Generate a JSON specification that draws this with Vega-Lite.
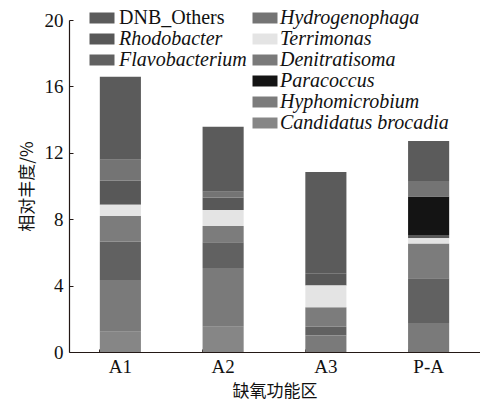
{
  "$schema": "https://vega.github.io/schema/vega-lite/v6.json",
  "autosize": "none",
  "width": 411,
  "height": 332,
  "padding": {"left": 69, "top": 20, "right": 0, "bottom": 54},
  "background": "white",
  "config": {
    "view": {"stroke": null},
    "font": "Liberation Serif",
    "axis": {"domainColor": "#231815", "tickColor": "#231815", "labelColor": "#111", "titleColor": "#111", "grid": false}
  },
  "data": {
    "values": [
      {"site": "A1", "genus": "Candidatus brocadia", "value": 1.22},
      {"site": "A1", "genus": "Denitratisoma", "value": 3.12},
      {"site": "A1", "genus": "Flavobacterium", "value": 2.3},
      {"site": "A1", "genus": "Hyphomicrobium", "value": 1.56},
      {"site": "A1", "genus": "Terrimonas", "value": 0.67},
      {"site": "A1", "genus": "Rhodobacter", "value": 1.44},
      {"site": "A1", "genus": "Hydrogenophaga", "value": 1.27},
      {"site": "A1", "genus": "DNB_Others", "value": 5.0},
      {"site": "A2", "genus": "Candidatus brocadia", "value": 1.52},
      {"site": "A2", "genus": "Denitratisoma", "value": 3.54},
      {"site": "A2", "genus": "Flavobacterium", "value": 1.55},
      {"site": "A2", "genus": "Hyphomicrobium", "value": 0.98},
      {"site": "A2", "genus": "Terrimonas", "value": 0.96},
      {"site": "A2", "genus": "Rhodobacter", "value": 0.75},
      {"site": "A2", "genus": "Hydrogenophaga", "value": 0.36},
      {"site": "A2", "genus": "DNB_Others", "value": 3.91},
      {"site": "A3", "genus": "Denitratisoma", "value": 1.0},
      {"site": "A3", "genus": "Flavobacterium", "value": 0.52},
      {"site": "A3", "genus": "Hyphomicrobium", "value": 1.17},
      {"site": "A3", "genus": "Terrimonas", "value": 1.31},
      {"site": "A3", "genus": "Rhodobacter", "value": 0.72},
      {"site": "A3", "genus": "DNB_Others", "value": 6.12},
      {"site": "P-A", "genus": "Denitratisoma", "value": 1.75},
      {"site": "P-A", "genus": "Flavobacterium", "value": 2.69},
      {"site": "P-A", "genus": "Hyphomicrobium", "value": 2.1},
      {"site": "P-A", "genus": "Terrimonas", "value": 0.31},
      {"site": "P-A", "genus": "Rhodobacter", "value": 0.2},
      {"site": "P-A", "genus": "Paracoccus", "value": 2.31},
      {"site": "P-A", "genus": "Hydrogenophaga", "value": 0.94},
      {"site": "P-A", "genus": "DNB_Others", "value": 2.41}
    ]
  },
  "transform": [
    {"stack": "value", "groupby": ["site"], "as": ["y0", "y1"]}
  ],
  "encoding": {
    "x": {
      "field": "site", "type": "nominal", "sort": ["A1", "A2", "A3", "P-A"],
      "scale": {"paddingInner": 0.6, "paddingOuter": 0.3},
      "axis": {
        "title": "缺氧功能区", "titleFont": "Noto Sans CJK SC", "titleFontSize": 17, "titleFontWeight": "normal", "titlePadding": 7,
        "labelAngle": 0, "labelFontSize": 19, "labelPadding": 8,
        "bandPosition": 0, "tickSize": -3, "domainWidth": 1.2
      }
    },
    "y": {
      "field": "y1", "type": "quantitative",
      "scale": {"domain": [0, 20]},
      "axis": {
        "title": "相对丰度/%", "titleFont": "Noto Sans CJK SC", "titleFontSize": 17, "titleFontWeight": "normal", "titlePadding": 8,
        "values": [0, 4, 8, 12, 16, 20], "labelFontSize": 19, "labelPadding": 10,
        "tickSize": -4, "domainWidth": 1.2
      }
    },
    "y2": {"field": "y0"}
  },
  "layer": [
    {
      "transform": [{"filter": {"field": "genus", "oneOf": ["DNB_Others", "Rhodobacter", "Flavobacterium"]}}],
      "mark": {"type": "bar"},
      "encoding": {
        "color": {
          "field": "genus", "type": "nominal",
          "scale": {"domain": ["DNB_Others", "Rhodobacter", "Flavobacterium"], "range": ["#5b5b5b", "#585858", "#616161"]},
          "legend": {
            "title": null, "orient": "none", "legendX": 23, "legendY": -12, "padding": 0,
            "symbolType": "M-1.25,-0.55H1.25V0.55H-1.25Z", "symbolSize": 400, "symbolStrokeWidth": 0,
            "labelFontSize": 20, "labelFont": "Times New Roman, Liberation Serif, serif", "labelColor": "#111", "labelOffset": 7, "rowPadding": 1,
            "labelLimit": 300,
            "encode": {"labels": {"update": {"fontStyle": {"signal": "datum.value == 'DNB_Others' ? 'normal' : 'italic'"}}}}
          }
        }
      }
    },
    {
      "transform": [{"filter": {"field": "genus", "oneOf": ["Hydrogenophaga", "Terrimonas", "Denitratisoma", "Paracoccus", "Hyphomicrobium", "Candidatus brocadia"]}}],
      "mark": {"type": "bar"},
      "encoding": {
        "color": {
          "field": "genus", "type": "nominal",
          "scale": {"domain": ["Hydrogenophaga", "Terrimonas", "Denitratisoma", "Paracoccus", "Hyphomicrobium", "Candidatus brocadia"], "range": ["#747474", "#e4e4e4", "#7a7a7a", "#141414", "#7c7c7c", "#868686"]},
          "legend": {
            "title": null, "orient": "none", "legendX": 186, "legendY": -12, "padding": 0,
            "symbolType": "M-1.25,-0.55H1.25V0.55H-1.25Z", "symbolSize": 400, "symbolStrokeWidth": 0,
            "labelFontSize": 20, "labelFont": "Times New Roman, Liberation Serif, serif", "labelFontStyle": "italic", "labelColor": "#111", "labelOffset": 5, "rowPadding": 1,
            "labelLimit": 300
          }
        }
      }
    }
  ],
  "resolve": {"scale": {"color": "independent"}}
}
